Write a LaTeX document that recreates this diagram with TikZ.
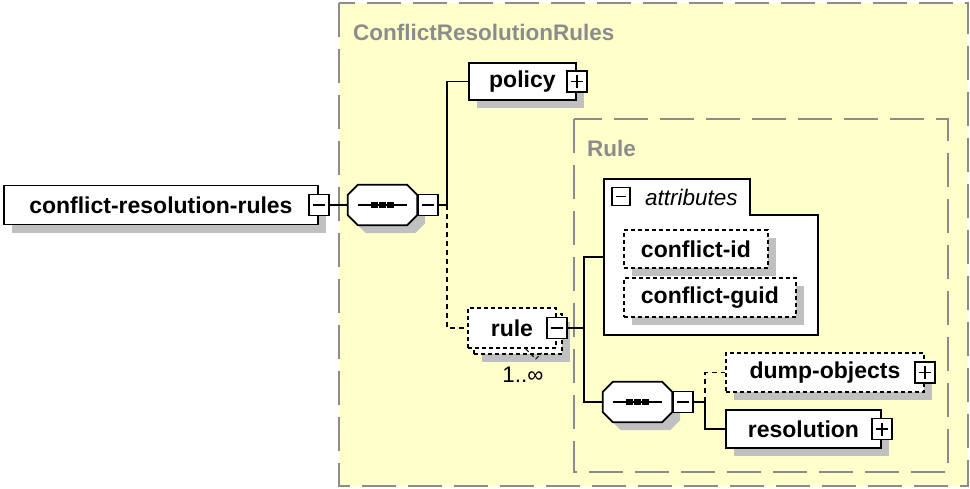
\documentclass[tikz,border=0pt]{standalone}
\usepackage{fontspec}
\setmainfont{Liberation Sans}
\usetikzlibrary{shadows}

\definecolor{groupyellow}{RGB}{255,255,204}
\definecolor{groupgray}{RGB}{140,140,140}
\definecolor{shadowgray}{RGB}{192,192,192}

\newcommand{\pmgap}{\hspace{10pt}}
% octagon round a sequence node, with its line of dots
\newcommand{\octagon}[1]{([xshift=10pt]#1.north west) -- ([xshift=-10pt]#1.north east) -- ([yshift=-10pt]#1.north east) -- ([yshift=10pt]#1.south east) -- ([xshift=-10pt]#1.south east) -- ([xshift=10pt]#1.south west) -- ([yshift=10pt]#1.south west) -- ([yshift=-10pt]#1.north west) -- cycle}
\newcommand{\seqdots}[1]{%
  \draw[conn, fill=white, boxshadow] \octagon{#1};
  \draw[conn] ([xshift=10pt]#1.west) -- ([xshift=-10pt]#1.east);
  \foreach \d in {-8,0,8}
    \fill ([xshift=\d pt]#1.center) +(-3.2,-3) rectangle +(3.2,3);
}

\tikzstyle{boxshadow} = [drop shadow={shadow xshift=8pt, shadow yshift=-8pt, fill=shadowgray, opacity=1}]
\tikzstyle{conn} = [line width=1.8pt]
\tikzstyle{optline} = [dash pattern=on 4pt off 3pt]
\tikzstyle{optconn} = [conn, dash pattern=on 5pt off 4pt]
\tikzstyle{elembase} = [rectangle, draw, fill=white, conn, anchor=west, minimum height=38, inner xsep=4pt, inner ysep=2pt, font=\fontsize{23}{27}\selectfont\bfseries]
\tikzstyle{elem} = [elembase, boxshadow]
\tikzstyle{optelem} = [elembase, boxshadow, optline]
\tikzstyle{pmbox} = [rectangle, draw, fill=white, conn, minimum width=20, minimum height=21, inner sep=0pt]
\tikzstyle{minus} = [pmbox, path picture={\draw[conn] ([xshift=4pt]path picture bounding box.west) -- ([xshift=-4pt]path picture bounding box.east);}]
\tikzstyle{plus} = [pmbox, path picture={\draw[conn] ([xshift=4pt]path picture bounding box.west) -- ([xshift=-4pt]path picture bounding box.east);
  \draw[conn] ([yshift=4pt]path picture bounding box.south) -- ([yshift=-4pt]path picture bounding box.north);}]
\tikzstyle{seq} = [rectangle, minimum width=69, minimum height=40, inner sep=0pt]
\tikzstyle{group} = [draw=groupgray, fill=groupyellow, line width=2.4pt, dash pattern=on 34pt off 12pt]
\tikzstyle{grouptitle} = [anchor=west, inner sep=0pt, text=groupgray, font=\fontsize{22.5}{27}\selectfont\bfseries]

\begin{document}
\begin{tikzpicture}[x = 1pt, y = -1pt]
\useasboundingbox (0,0) rectangle (970,488);

% ----------------------------------------------------
% groups

  \draw[group] (339,3) rectangle (968,486);
  \node (crrtitle) [grouptitle] at (353,32) {ConflictResolutionRules};
  \draw[group] (574,119) rectangle (948,472);
  \node (ruletitle) [grouptitle] at (587,148) {Rule};

% ----------------------------------------------------
% connectors

  \coordinate (fork1) at (447,205);
  \coordinate (fork2) at (584,328);
  \coordinate (fork3) at (705,402);
  \coordinate (attrs) at (604,257);

% ----------------------------------------------------
% elements

  \node (root) [elem, minimum width=314, minimum height=39] at (3,205) {conflict-resolution-rules\pmgap};
  \node (rootpm) [minus] at (root.east) {};

  \node (seq1) [seq] at (382.5,205) {};
  \seqdots{seq1}
  \node (seq1pm) [minus, anchor=west] at (seq1.east) {};

  \node (policy) [elem, minimum width=107, minimum height=37] at (468,81.5) {policy\pmgap};
  \node (policypm) [plus] at (policy.east) {};

  \node (rulestack) [optelem, minimum width=88, minimum height=40] at (473,334) {};
  \node (rule) [elembase, optline, minimum width=88, minimum height=40] at (467,328) {rule\pmgap};
  \node (rulepm) [minus] at (rule.east) {};
  \draw[conn, optline, line width=1pt] ([xshift=-31]rule.south east) -- ++(10,10) -- ++(6,-6);
  \node (rulecard) [inner sep=0pt, font=\fontsize{22.5}{27}\selectfont] at (523,375) {1..∞};

  % attributes
  \draw[conn, fill=white] (604,179) -- (750,179) -- (750,215) -- (818,215) -- (818,335) -- (604,335) -- cycle;
  \node (attrpm) [minus, minimum width=18, minimum height=18] at (621,196.5) {};
  \node (attrtitle) [anchor=west, inner sep=0pt, font=\fontsize{22.5}{27}\selectfont\itshape] at (645,197) {attributes};
  \node (cid) [optelem, minimum width=144] at (623,249) {conflict-id};
  \node (cguid) [optelem, minimum width=172, minimum height=39] at (623,297.5) {conflict-guid};

  \node (seq2) [seq] at (637.5,402) {};
  \seqdots{seq2}
  \node (seq2pm) [minus, anchor=west] at (seq2.east) {};

  \node (dump) [optelem, minimum width=198, minimum height=39] at (725,372.5) {dump-objects\pmgap};
  \node (dumppm) [plus] at (dump.east) {};
  \node (resolution) [elem, minimum width=155] at (725,429) {resolution\pmgap};
  \node (resolutionpm) [plus] at (resolution.east) {};

% ----------------------------------------------------

  \draw[conn] (rootpm.east) -- (seq1.west);
  \draw[conn] (seq1pm.east) -- (fork1) |- (policy.west);
  \draw[optconn] (fork1) |- (rule.west);
  \draw[conn] (rulepm.east) -- (fork2) |- (attrs);
  \draw[conn] (fork2) |- (seq2.west);
  \draw[conn] (seq2pm.east) -- (fork3) |- (resolution.west);
  \draw[optconn] (fork3) |- (dump.west);

\end{tikzpicture}
\end{document}
